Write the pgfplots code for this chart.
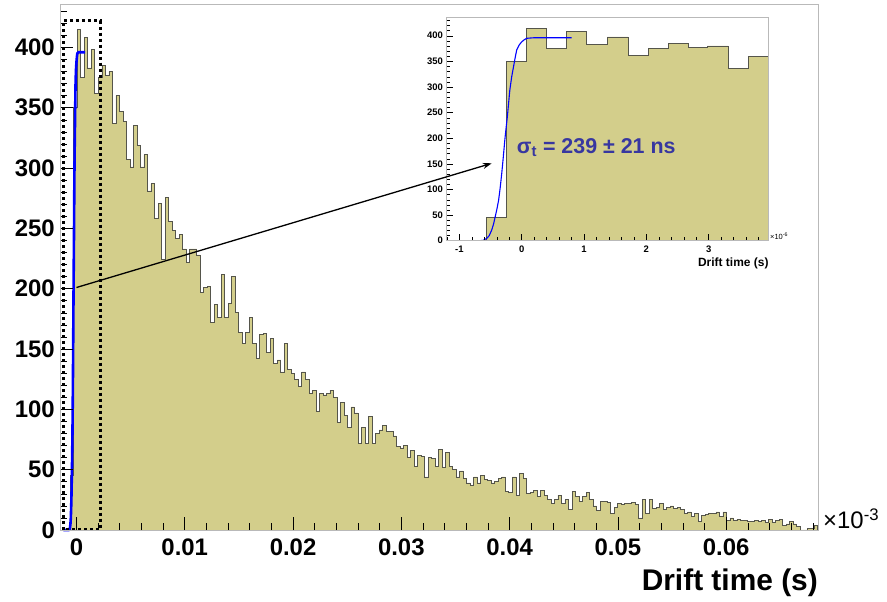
\documentclass[border=0pt]{standalone}
\usepackage{fontspec}
\setmainfont{Liberation Sans}
\usepackage{pgfplots}
\usepackage{pgfplotstable}
\pgfplotsset{compat=1.18}
\usetikzlibrary{arrows.meta}
\definecolor{histfill}{RGB}{211,206,139}
\definecolor{histline}{RGB}{85,85,75}
\definecolor{sigcol}{RGB}{55,55,160}
\newcommand\fs[1]{\fontsize{#1}{#1}\selectfont}

% main histogram: counts per bin, bins of 0.000324 (x10^-3 s) starting at -0.00057
\pgfplotstableread[row sep=\\]{
y\\
45\\350\\415\\375\\408\\383\\398\\362\\375\\385\\
377\\380\\337\\360\\347\\339\\307\\301\\335\\319\\
301\\311\\281\\287\\258\\271\\224\\276\\256\\248\\
242\\245\\233\\222\\233\\233\\228\\197\\201\\202\\
172\\187\\176\\212\\176\\188\\210\\180\\164\\155\\
164\\176\\155\\142\\162\\163\\147\\159\\138\\141\\
131\\155\\133\\130\\125\\119\\131\\125\\
113\\116\\98\\113\\112\\113\\116\\110\\89\\106\\
95\\85\\102\\97\\72\\85\\72\\94\\72\\80\\
83\\87\\82\\82\\78\\69\\68\\70\\60\\66\\53\\62\\
61\\44\\60\\59\\53\\67\\52\\64\\53\\50\\
44\\49\\43\\39\\37\\44\\39\\45\\42\\41\\
39\\40\\43\\44\\32\\31\\44\\29\\47\\43\\30\\31\\33\\28\\
33\\29\\25\\22\\25\\29\\22\\25\\17\\32\\
28\\24\\28\\31\\25\\20\\16\\24\\24\\23\\
14\\19\\22\\21\\22\\22\\23\\21\\10\\25\\14\\25\\18\\19\\
22\\17\\19\\20\\18\\19\\17\\14\\15\\11\\
14\\7\\12\\13\\14\\14\\15\\11\\15\\8\\
10\\8\\9\\8\\8\\7\\7\\8\\7\\8\\
6\\9\\6\\8\\9\\4\\5\\7\\5\\3\\
0\\0\\1\\1\\4\\4\\
}\maintab

% inset histogram (x in 10^-6 s)
\pgfplotstableread[row sep=\\]{
x y\\
-0.572 45\\ -0.251 350\\ 0.070 415\\ 0.401 375\\ 0.722 408\\ 1.043 383\\ 1.374 398\\
1.706 362\\ 2.027 375\\ 2.348 385\\ 2.668 377\\ 2.979 380\\ 3.310 337\\ 3.642 360\\ 3.963 360\\
}\insettab

% fitted edge (x in 10^-6 s)
\pgfplotstableread[row sep=\\]{
t f\\
-1.214 0\\ -0.70 0\\ -0.62 0.5\\ -0.56 4.5\\ -0.52 10\\ -0.48 21\\ -0.45 33\\ -0.43 44\\
-0.40 60\\ -0.37 79\\ -0.345 103\\ -0.32 131\\ -0.295 163\\ -0.27 197\\ -0.25 220\\
-0.23 242\\ -0.21 268\\ -0.19 294\\ -0.16 320\\ -0.13 340\\ -0.10 360\\ -0.08 372\\
-0.04 382\\ 0 388\\ 0.04 392\\ 0.08 395\\ 0.19 396\\ 0.8 396\\
}\fittab

\begin{document}
\begin{tikzpicture}
\useasboundingbox[fill=white] (0,0) rectangle (887bp,602bp);
\begin{axis}[
  at={(60bp,72bp)}, anchor=south west,
  scale only axis, width=758bp, height=526bp,
  xmin=-0.00152, xmax=0.06848, ymin=0, ymax=436,
  clip=false, axis on top,
  scaled x ticks=false, scaled y ticks=false,
  axis line style={gray!55, line width=0.8bp},
  tick style={black, line width=0.6bp},
  tick align=inside, tick pos=left,
  major tick length=13bp, minor tick length=6.5bp,
  xtick={0,0.01,0.02,0.03,0.04,0.05,0.06},
  xticklabels={0,0.01,0.02,0.03,0.04,0.05,0.06},
  minor xtick={0,0.002,...,0.068},
  ytick={0,50,100,150,200,250,300,350,400},
  yticklabels={0,50,100,150,200,250,300,350,400},
  minor ytick={10,20,...,430},
  tick label style={font=\fs{24}\bfseries},
  xticklabel style={anchor=north, inner sep=0pt, yshift=-9bp},
  yticklabel style={anchor=east, inner sep=0pt, xshift=-5bp},
]
\addplot[const plot, fill=histfill, draw=histline, line width=0.7bp]
  table[x expr={-0.00057+0.000324*\coordindex}, y=y] {\maintab} \closedcycle;
\addplot[blue, line width=2.6bp] table[x expr={\thisrow{t}*0.001}, y=f] {\fittab};
\draw[black, line width=3bp, dash pattern=on 3bp off 3bp]
  (axis cs:-0.00124,0) rectangle (axis cs:0.00218,422);
\coordinate (A) at (axis cs:0,201);
\end{axis}

\begin{axis}[
  at={(446bp,361.3bp)}, anchor=south west,
  scale only axis, width=322.7bp, height=223.4bp,
  xmin=-1.214, xmax=3.963, ymin=0, ymax=436,
  scaled x ticks=false, scaled y ticks=false,
  axis background/.style={fill=white},
  axis on top,
  axis line style={gray!55, line width=0.6bp},
  tick style={black, line width=0.4bp},
  tick align=inside, tick pos=left,
  major tick length=7bp, minor tick length=3.5bp,
  xtick={-1,0,1,2,3}, xticklabels={-1,0,1,2,3},
  minor xtick={-1.2,-1.0,...,3.8},
  ytick={0,50,100,150,200,250,300,350,400},
  yticklabels={0,50,100,150,200,250,300,350,400},
  minor ytick={10,20,...,430},
  tick label style={font=\fs{9.5}\bfseries},
  xticklabel style={anchor=north, inner sep=0pt, yshift=-5bp},
  yticklabel style={anchor=east, inner sep=0pt, xshift=-3bp},
]
\addplot[const plot, fill=histfill, draw=histline, line width=0.5bp]
  table[x=x, y=y] {\insettab} \closedcycle;
\addplot[blue, line width=1.1bp] table[x=t, y=f] {\fittab};
\coordinate (B) at (axis cs:-0.48,151);
\end{axis}

\draw[-{Stealth[length=9bp,width=6bp]}, line width=1.3bp] (A) -- (B);

\node[anchor=base west, inner sep=0pt, text=sigcol, font=\fs{21.5}\bfseries]
  at (516.7bp,448.7bp) {σ\textsubscript{t} = 239 ± 21 ns};
\node[anchor=base west, inner sep=0pt, font=\fs{7.5}] at (770bp,362.5bp) {×10\textsuperscript{-6}};
\node[anchor=base east, inner sep=0pt, font=\fs{12}\bfseries] at (768.7bp,335.5bp) {Drift time (s)};
\node[anchor=base east, inner sep=0pt, font=\fs{30}\bfseries] at (818bp,12bp) {Drift time (s)};
\node[anchor=base west, inner sep=0pt, font=\fs{24}] at (823bp,73bp) {×10\textsuperscript{-3}};
\end{tikzpicture}
\end{document}
